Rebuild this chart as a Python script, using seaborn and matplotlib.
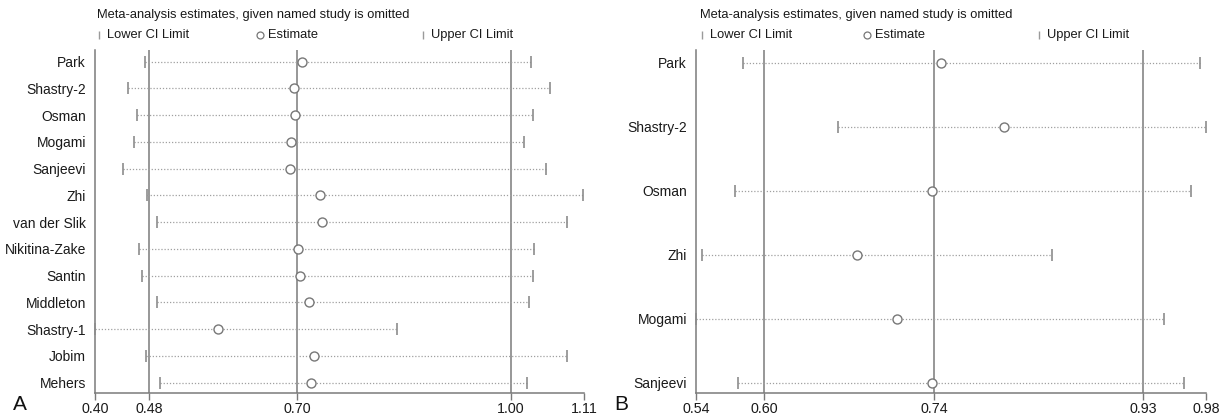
import matplotlib
matplotlib.use("Agg")
import matplotlib.pyplot as plt
from matplotlib.lines import Line2D
import seaborn as sns
import pandas as pd

sns.set_theme(style="white")
plt.rcParams['font.family'] = ['Liberation Sans', 'DejaVu Sans']

# ---------------- Panel A data ----------------
studies_a = ["Park", "Shastry-2", "Osman", "Mogami", "Sanjeevi", "Zhi", "van der Slik",
             "Nikitina-Zake", "Santin", "Middleton", "Shastry-1", "Jobim", "Mehers"]
lower_a = [0.4726, 0.4484, 0.4605, 0.4562, 0.4411, 0.4751, 0.4896,
           0.4639, 0.4687, 0.4905, 0.4000, 0.4741, 0.4948]
est_a = [0.7001, 0.6894, 0.6908, 0.6842, 0.6827, 0.7267, 0.7292,
         0.6952, 0.6977, 0.7107, 0.5790, 0.7180, 0.7136]
upper_a = [1.0331, 1.0602, 1.0355, 1.0234, 1.0549, 1.1090, 1.0849,
           1.0370, 1.0355, 1.0302, 0.8381, 1.0858, 1.0277]
ticks_a = [0.40, 0.4784, 0.6937, 1.0036, 1.11]
ticklabels_a = ["0.40", "0.48", "0.70", "1.00", "1.11"]
refs_a = [0.4784, 0.6937, 1.0036]

# ---------------- Panel B data ----------------
studies_b = ["Park", "Shastry-2", "Osman", "Zhi", "Mogami", "Sanjeevi"]
lower_b = [0.5803, 0.6628, 0.5736, 0.5454, 0.5400, 0.5765]
est_b = [0.7514, 0.8057, 0.7439, 0.6789, 0.7134, 0.7439]
upper_b = [0.9748, 0.9800, 0.9671, 0.8471, 0.9438, 0.9610]
ticks_b = [0.54, 0.5989, 0.7453, 0.9259, 0.98]
ticklabels_b = ["0.54", "0.60", "0.74", "0.93", "0.98"]
refs_b = [0.5989, 0.7453, 0.9259]

W, H = 1229, 416
fig = plt.figure(figsize=(W / 100, H / 100), dpi=100)

GRAY = "#8c8c8c"
LINE = "#7a7a7a"
TXT = "#1a1a1a"


def fx(px):
    return px / W


def fy(py):
    return 1 - py / H


def panel(left_px, right_px, studies, lower, est, upper, ticks, ticklabels, refs,
          top_margin, bottom_margin, letter, letter_x):
    ax = fig.add_axes([fx(left_px), fy(393), fx(right_px - left_px), (393 - 50) / H])
    df = pd.DataFrame({"study": studies, "pos": range(len(studies)),
                       "lower": lower, "est": est, "upper": upper})
    # reference vertical lines
    for r in refs:
        ax.axvline(r, color=LINE, lw=1.1, zorder=1)
    # dotted CI lines
    ax.hlines(df["pos"], df["lower"], df["upper"], colors="#a0a0a0",
              linestyles=(0, (1, 1.5)), lw=0.9, zorder=2)
    # CI limit ticks
    sns.scatterplot(data=df, x="lower", y="pos", marker="|", s=70, color=GRAY,
                    linewidth=1.2, ax=ax, zorder=3, clip_on=False)
    sns.scatterplot(data=df, x="upper", y="pos", marker="|", s=70, color=GRAY,
                    linewidth=1.2, ax=ax, zorder=3, clip_on=False)
    # estimates
    sns.scatterplot(data=df, x="est", y="pos", marker="o", s=42, facecolor="white",
                    edgecolor="#777777", linewidth=1.0, ax=ax, zorder=4)
    n = len(studies)
    ax.set_ylim(n - 1 + bottom_margin, -top_margin)
    ax.set_xlim(ticks[0], ticks[-1])
    ax.set_yticks(range(n))
    ax.set_yticklabels(studies, fontsize=10, color=TXT)
    ax.set_xticks(ticks)
    ax.set_xticklabels(ticklabels, fontsize=10.3, color=TXT)
    ax.set_xlabel("")
    ax.set_ylabel("")
    for s in ["top", "right"]:
        ax.spines[s].set_visible(False)
    for s in ["left", "bottom"]:
        ax.spines[s].set_color(LINE)
        ax.spines[s].set_linewidth(1.1)
    ax.tick_params(axis="y", length=0, pad=6.5)
    ax.tick_params(axis="x", length=5, width=1.0, color=LINE, pad=1.5, direction="out",
                   bottom=True)
    ax.set_facecolor("none")
    fig.text(fx(letter_x), fy(404), letter, fontsize=15, ha="left", va="center",
             color="#111111")
    return ax


panel(95, 584, studies_a, lower_a, est_a, upper_a, ticks_a, ticklabels_a, refs_a,
      0.437, 0.385, "A", 13)
panel(696, 1206, studies_b, lower_b, est_b, upper_b, ticks_b, ticklabels_b, refs_b,
      0.203, 0.161, "B", 614)


def legend(x0, est_x, up_x):
    fig.text(fx(x0), fy(15), "Meta-analysis estimates, given named study is omitted",
             fontsize=9.3, ha="left", va="center", color=TXT)
    for mx, txt, mk in [(x0 + 2, "Lower CI Limit", "|"), (est_x, "Estimate", "o"),
                        (up_x, "Upper CI Limit", "|")]:
        if mk == "|":
            fig.add_artist(Line2D([fx(mx)], [fy(35)], marker="|", markersize=6,
                                  color="#9a9a9a", mew=1.0, transform=fig.transFigure))
        else:
            fig.add_artist(Line2D([fx(mx)], [fy(35)], marker="o", markersize=5,
                                  markerfacecolor="white", markeredgecolor="#777777",
                                  mew=0.9, transform=fig.transFigure))
        fig.text(fx(mx + 8), fy(35), txt, fontsize=9.3, ha="left", va="center",
                 color=TXT)


legend(97, 260, 423)
legend(700, 867, 1039)

fig.savefig("out.png", dpi=100)
